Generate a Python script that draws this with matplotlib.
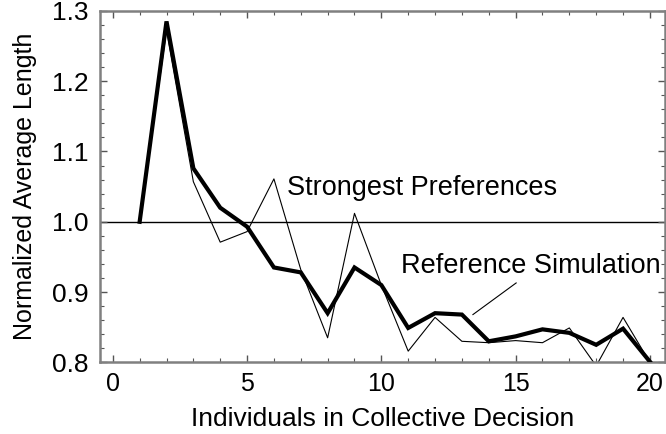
import numpy as np
import matplotlib.pyplot as plt
from matplotlib.ticker import MultipleLocator

plt.rcParams['font.family'] = ['Liberation Sans', 'DejaVu Sans']

individuals = list(range(1, 21))
reference_sim = [1.000, 1.285, 1.076, 1.020, 0.993, 0.935, 0.928, 0.870, 0.935, 0.910,
                 0.849, 0.870, 0.868, 0.830, 0.837, 0.847, 0.842, 0.825, 0.848, 0.801]
strongest_pref = [1.000, 1.272, 1.057, 0.971, 0.986, 1.061, 0.932, 0.835, 1.012, 0.910,
                  0.816, 0.864, 0.830, 0.828, 0.831, 0.828, 0.849, 0.795, 0.864, 0.800]


def setup_axes(ax):
    ax.set_xlim(-0.48, 20.55)
    ax.set_ylim(0.8, 1.3)
    ax.xaxis.set_major_locator(MultipleLocator(5))
    ax.xaxis.set_minor_locator(MultipleLocator(1))
    ax.yaxis.set_major_locator(MultipleLocator(0.1))
    ax.yaxis.set_minor_locator(MultipleLocator(0.02))
    ax.yaxis.set_major_formatter(plt.FormatStrFormatter('%.1f'))
    ax.tick_params(which='both', direction='in', top=True, right=True, color='#555555')
    ax.tick_params(which='major', length=5, width=1)
    ax.tick_params(which='minor', length=3, width=0.8)
    ax.tick_params(axis='x', which='major', labelsize=18, pad=7)
    ax.tick_params(axis='y', which='major', labelsize=19, pad=8)
    for s in ax.spines.values():
        s.set_color('#808080')
        s.set_linewidth(1.8)


fig = plt.figure(figsize=(6.66, 4.34), dpi=100)
ax = fig.add_axes([0.150, 0.165, 0.848, 0.810])
setup_axes(ax)

ax.axhline(1.0, color='black', lw=1.0, zorder=1)
ax.plot(individuals, strongest_pref, color='black', lw=0.8, zorder=2)
ax.plot(individuals, reference_sim, color='black', lw=3.0, zorder=3,
        solid_joinstyle='miter')

ax.text(6.47, 1.048, 'Strongest Preferences', fontsize=19.5, va='center', ha='left')
ax.text(10.75, 0.9365, 'Reference Simulation', fontsize=19.5, va='center', ha='left')
ax.plot([15.02, 13.41], [0.913, 0.868], color='black', lw=0.8)

ax.set_xlabel('Individuals in Collective Decision', fontsize=19, labelpad=8)
ax.set_ylabel('Normalized Average Length', fontsize=18, labelpad=11)

fig.savefig('out.png', dpi=100)
